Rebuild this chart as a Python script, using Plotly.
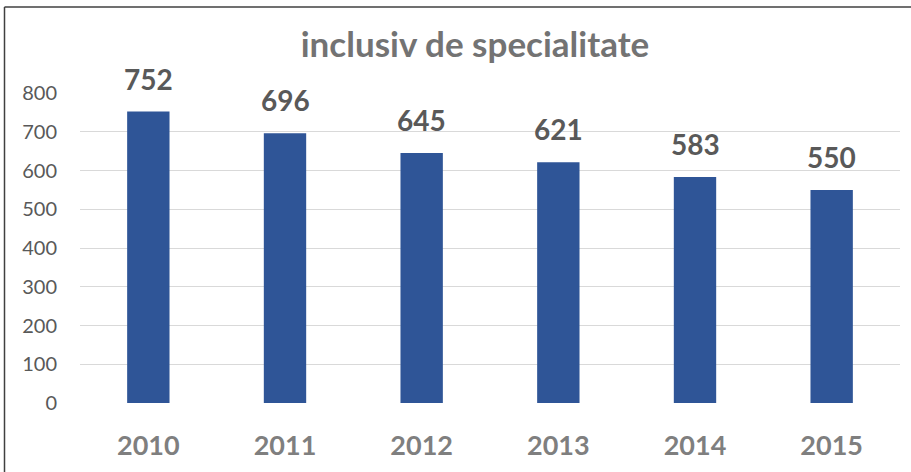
import plotly.graph_objects as go

years = ["2010", "2011", "2012", "2013", "2014", "2015"]
values = [752, 696, 645, 621, 583, 550]
y_ticks = [0, 100, 200, 300, 400, 500, 600, 700, 800]
title_text = "inclusiv de specialitate"

FONT = "Lato"
W, H = 911, 472
L, R, T, B = 80, 11, 93, 69

fig = go.Figure()
fig.add_trace(go.Bar(
    x=years, y=values,
    marker=dict(color="#2F5597", line=dict(width=0)),
    width=0.31,
    hoverinfo="x+y",
))

for i, yv in enumerate(values):
    fig.add_annotation(
        x=i, y=yv, xref="x", yref="y",
        text=f"<b>{yv}</b>", showarrow=False,
        yanchor="bottom", yshift=14,
        font=dict(family=FONT, size=28, color="#595959"),
    )

fig.update_layout(
    width=W, height=H,
    margin=dict(l=L, r=R, t=T, b=B),
    paper_bgcolor="white", plot_bgcolor="white",
    showlegend=False,
    title=dict(
        text=f"<b>{title_text}</b>",
        x=475 / W, xanchor="center",
        y=1 - 45 / H, yanchor="middle",
        font=dict(family=FONT, size=35, color="#737373"),
    ),
    xaxis=dict(
        type="category",
        range=[-0.5, 5.5],
        showgrid=False, showline=False, zeroline=False,
        ticks="", tickfont=dict(family=FONT, size=27, color="#7F7F7F"),
        tickprefix="<b>", ticksuffix="</b>",
        ticklabelstandoff=24,
    ),
    yaxis=dict(
        range=[0, 800], tickvals=y_ticks,
        showgrid=True, gridcolor="#D9D9D9", gridwidth=1.3,
        zeroline=False, showline=False, ticks="",
        tickfont=dict(family=FONT, size=20, color="#595959"),
        ticklabelstandoff=22,
    ),
    shapes=[
        dict(type="line", xref="paper", yref="paper",
             x0=(4.5 - L) / (W - L - R), x1=(4.5 - L) / (W - L - R),
             y0=(H - B - 480) / (H - T - B), y1=(H - B - 7) / (H - T - B),
             line=dict(color="#404040", width=1.5)),
        dict(type="line", xref="paper", yref="paper",
             x0=(4.5 - L) / (W - L - R), x1=(915 - L) / (W - L - R),
             y0=(H - B - 7) / (H - T - B), y1=(H - B - 7) / (H - T - B),
             line=dict(color="#404040", width=1.5)),
    ],
)

fig.write_html("out.html", config={"displayModeBar": False},
               post_script="document.body.style.margin='0';")
